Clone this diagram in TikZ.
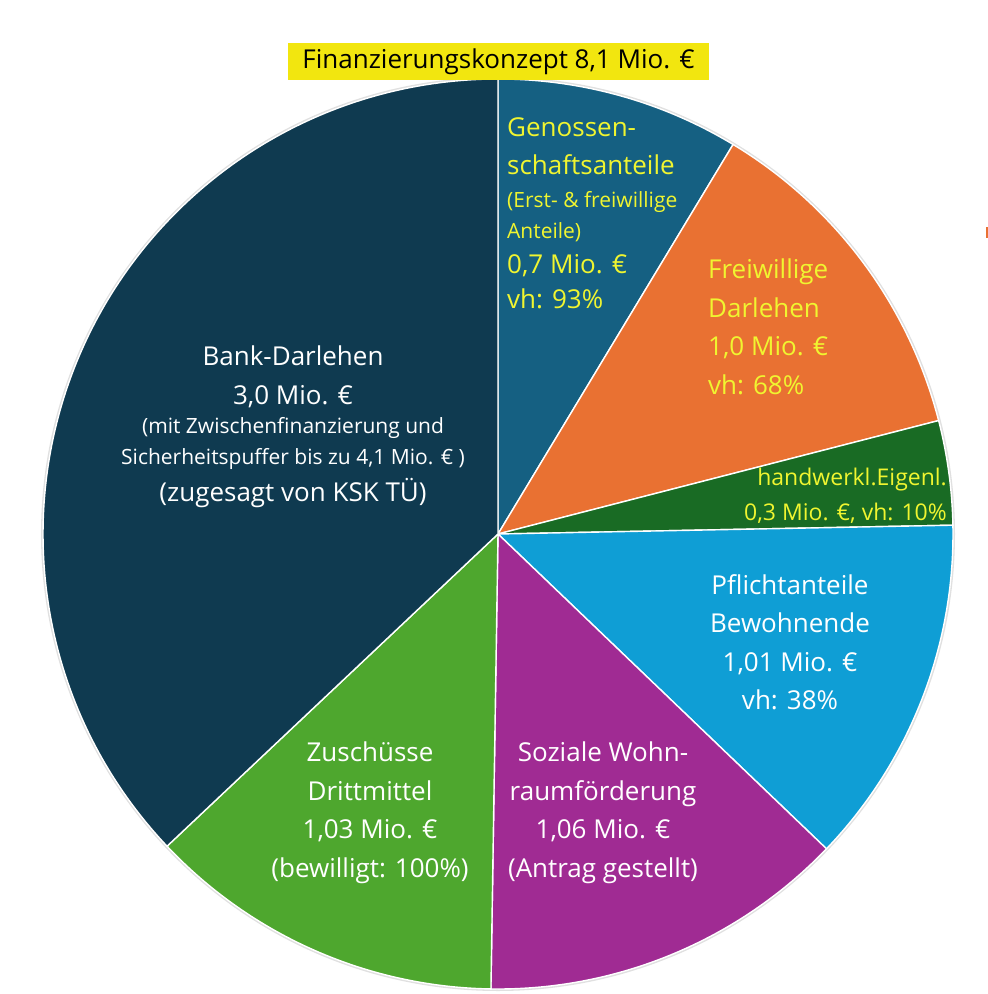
\documentclass[tikz,border=0pt]{standalone}
\usepackage{fontspec}
\setmainfont{Open Sans}
\definecolor{bankc}{HTML}{0F3A50}
\definecolor{genoc}{HTML}{156082}
\definecolor{freic}{HTML}{E97132}
\definecolor{handc}{HTML}{196B24}
\definecolor{pflic}{HTML}{0F9ED5}
\definecolor{sozc}{HTML}{A02B93}
\definecolor{zusc}{HTML}{4EA72E}
\definecolor{gelb}{HTML}{F0F530}
\definecolor{titelgelb}{HTML}{F2E60F}
\newcommand{\klein}[1]{{\fontsize{21}{28}\selectfont #1}}

\begin{document}
\begin{tikzpicture}[x=1pt,y=1pt,
    lbl/.style={font=\fontsize{26}{38.5}\selectfont, inner sep=0pt},
    gelblbl/.style={lbl, text=gelb},
    weisslbl/.style={lbl, text=white}]
\useasboundingbox (0,0) rectangle (988,-994);
\coordinate (ctr) at (498,-534);
% Kuchenstuecke im Uhrzeigersinn ab 12 Uhr
\fill[black!12] (ctr) circle[radius=457];
\foreach \a/\b/\c in {90/58.89/genoc, 58.89/14.44/freic, 14.44/1.11/handc,
    1.11/-43.78/pflic, -43.78/-90.89/sozc, -90.89/-136.67/zusc, -136.67/-270/bankc}
  \filldraw[fill=\c, draw=white, line width=1.4pt] (ctr) -- ++(\a:455)
    arc[start angle=\a, end angle=\b, radius=455] -- cycle;
\fill[freic] (986,-227) rectangle (988,-238);
% Titel
\node[lbl, fill=titelgelb, minimum width=421, minimum height=37] (titel) at (498.5,-61.5)
  {Finanzierungskonzept 8,1 Mio. €};
% Beschriftungen
\node[gelblbl, align=left, anchor=north west] (geno) at (507,-117)
  {Genossen-\\schaftsanteile\\[-6pt]\klein{(Erst- \& freiwillige}\\[-7pt]\klein{Anteile)}\\[-4pt]0,7 Mio. €\\[-3pt]vh: 93\%};
\node[gelblbl, align=left, anchor=north west] (frei) at (708,-259)
  {Freiwillige\\Darlehen\\1,0 Mio. €\\vh: 68\%};
\node[gelblbl, align=right, anchor=north east, font=\fontsize{23}{35}\selectfont] (hand) at (947,-468)
  {handwerkl.Eigenl.\\0,3 Mio. €, vh: 10\%};
\node[weisslbl, align=center, anchor=north] (bank) at (293,-346)
  {Bank-Darlehen\\3,0 Mio. €\\[-9pt]\klein{(mit Zwischenfinanzierung und}\\[-8pt]
   \klein{Sicherheitspuffer bis zu 4,1 Mio. € )}\\[-1pt](zugesagt von KSK TÜ)};
\node[weisslbl, align=center, anchor=north] (pfli) at (790,-574)
  {Pflichtanteile\\Bewohnende\\1,01 Mio. €\\vh: 38\%};
\node[weisslbl, align=center, anchor=north] (zus) at (370,-742)
  {Zuschüsse\\Drittmittel\\1,03 Mio. €\\(bewilligt: 100\%)};
\node[weisslbl, align=center, anchor=north] (soz) at (603,-742)
  {Soziale Wohn-\\raumförderung\\1,06 Mio. €\\(Antrag gestellt)};
\end{tikzpicture}
\end{document}
